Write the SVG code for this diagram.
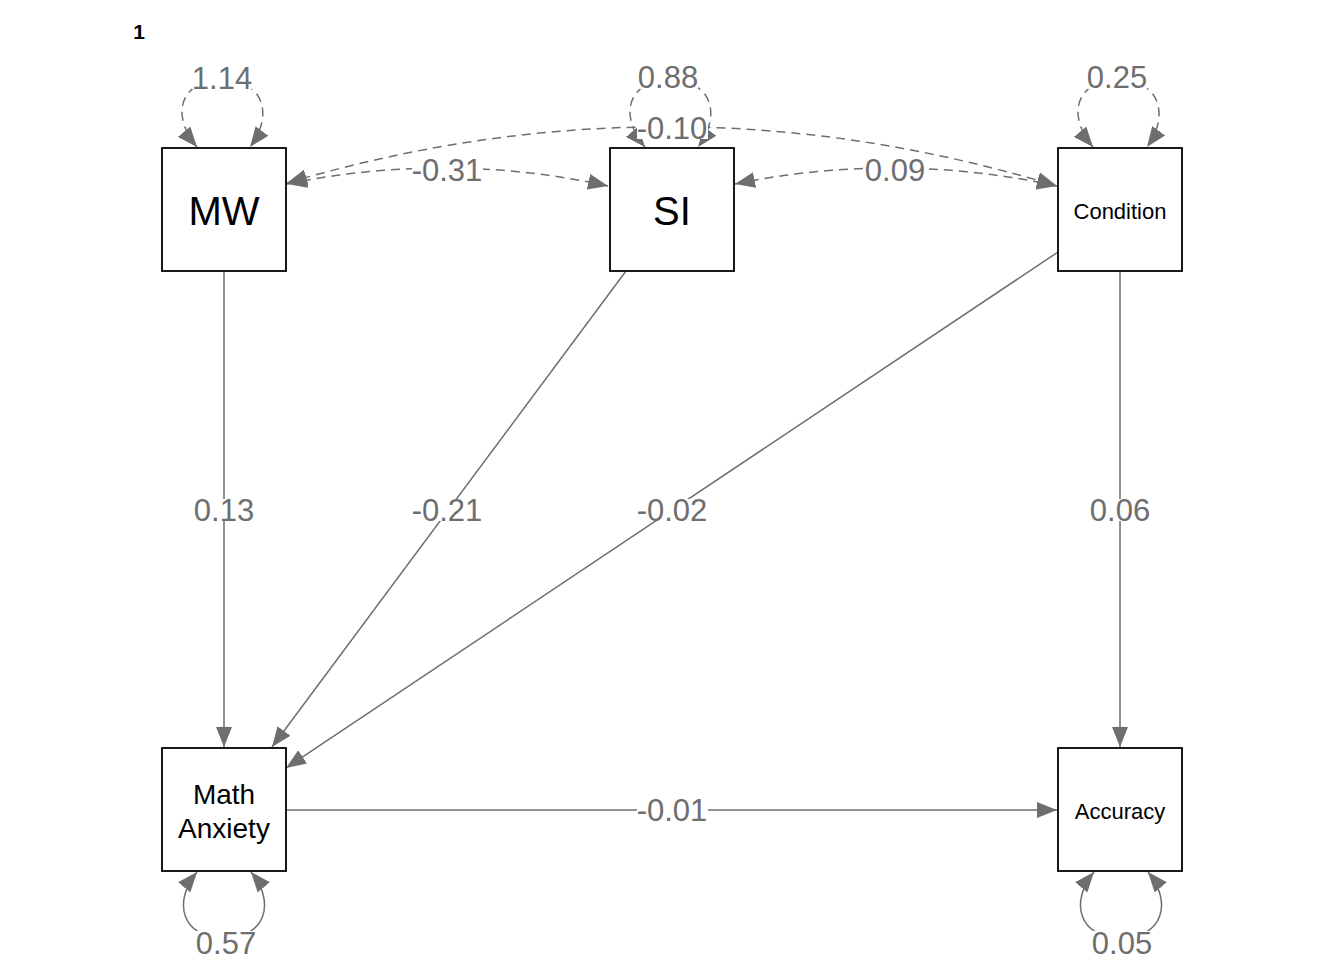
<svg xmlns="http://www.w3.org/2000/svg" width="1344" height="960" viewBox="0 0 1344 960">
<style>
.e{fill:none;stroke:#6e6e6e;stroke-width:1.5}
.d{stroke-dasharray:9 6}
.lb{fill:#fff}
.lt{font-family:"Liberation Sans",Arial,sans-serif;font-size:31px;fill:#6e6e6e;text-anchor:middle}
.n{fill:#fff;stroke:#000;stroke-width:1.8}
.nt{font-family:"Liberation Sans",Arial,sans-serif;fill:#000;text-anchor:middle}
.title{font-family:"Liberation Sans",Arial,sans-serif;font-size:21px;font-weight:bold;fill:#000;text-anchor:middle}
</style>
<defs>
<marker id="ah" viewBox="0 0 20 16" refX="20" refY="8" markerWidth="20" markerHeight="16" markerUnits="userSpaceOnUse" orient="auto-start-reverse">
<path d="M0,0 L20,8 L0,16 z" fill="#6e6e6e"/>
</marker>
</defs>
<rect width="1344" height="960" fill="#fff"/>
<text class="title" x="139" y="39">1</text>
<g id="connectors">
<path class="e" d="M224,271 L224,747" marker-end="url(#ah)"/>
<path class="e" d="M626,271 L272,747" marker-end="url(#ah)"/>
<path class="e" d="M1058,252 L286,768" marker-end="url(#ah)"/>
<path class="e" d="M1120,271 L1120,747" marker-end="url(#ah)"/>
<path class="e" d="M286,810 L1057,810" marker-end="url(#ah)"/>
<path class="e d" d="M287,184 Q448,151 608,186" marker-start="url(#ah)" marker-end="url(#ah)"/>
<path class="e d" d="M735,184 Q896,151 1057,186" marker-start="url(#ah)" marker-end="url(#ah)"/>
<path class="e d" d="M287,183 Q672,69 1057,186" marker-start="url(#ah)" marker-end="url(#ah)"/>
<path class="e d" d="M197,147 C170,115 180,80 222,80 C264,80 274,115 250,147" marker-start="url(#ah)" marker-end="url(#ah)"/>
<path class="e d" d="M645,147 C618,115 628,80 670,80 C712,80 722,115 698,147" marker-start="url(#ah)" marker-end="url(#ah)"/>
<path class="e d" d="M1093,147 C1066,115 1076,80 1118,80 C1160,80 1170,115 1147,147" marker-start="url(#ah)" marker-end="url(#ah)"/>
<path class="e" d="M197,872 C172,902 182,938 224,938 C266,938 276,902 251,872" marker-start="url(#ah)" marker-end="url(#ah)"/>
<path class="e" d="M1094,872 C1069,902 1079,938 1121,938 C1163,938 1173,902 1148,872" marker-start="url(#ah)" marker-end="url(#ah)"/>
</g>
<g id="labels">
<rect class="lb" x="194" y="499" width="60" height="22"/><text class="lt" x="224" y="521">0.13</text>
<rect class="lb" x="412" y="499" width="71" height="22"/><text class="lt" x="447" y="521">-0.21</text>
<rect class="lb" x="637" y="499" width="71" height="22"/><text class="lt" x="672" y="521">-0.02</text>
<rect class="lb" x="1090" y="499" width="60" height="22"/><text class="lt" x="1120" y="521">0.06</text>
<rect class="lb" x="637" y="799" width="71" height="22"/><text class="lt" x="672" y="821">-0.01</text>
<rect class="lb" x="412" y="159" width="71" height="22"/><text class="lt" x="447" y="181">-0.31</text>
<rect class="lb" x="865" y="159" width="60" height="22"/><text class="lt" x="895" y="181">0.09</text>
<rect class="lb" x="637" y="117" width="71" height="22"/><text class="lt" x="672" y="139">-0.10</text>
<rect class="lb" x="192" y="67" width="60" height="22"/><text class="lt" x="222" y="89">1.14</text>
<rect class="lb" x="638" y="67" width="60" height="22"/><text class="lt" x="668" y="88">0.88</text>
<rect class="lb" x="1087" y="67" width="60" height="22"/><text class="lt" x="1117" y="88">0.25</text>
<rect class="lb" x="196" y="931" width="60" height="22"/><text class="lt" x="226" y="954">0.57</text>
<rect class="lb" x="1092" y="931" width="60" height="22"/><text class="lt" x="1122" y="954">0.05</text>
</g>
<g id="node-MW"><rect class="n" x="162" y="148" width="124" height="123"/><text class="nt" x="224" y="225" font-size="40">MW</text></g>
<g id="node-SI"><rect class="n" x="610" y="148" width="124" height="123"/><text class="nt" x="672" y="225" font-size="40">SI</text></g>
<g id="node-Condition"><rect class="n" x="1058" y="148" width="124" height="123"/><text class="nt" x="1120" y="219" font-size="22">Condition</text></g>
<g id="node-MathAnxiety"><rect class="n" x="162" y="748" width="124" height="123"/><text class="nt" x="224" y="804" font-size="28">Math</text><text class="nt" x="224" y="838" font-size="28">Anxiety</text></g>
<g id="node-Accuracy"><rect class="n" x="1058" y="748" width="124" height="123"/><text class="nt" x="1120" y="819" font-size="22">Accuracy</text></g>
</svg>
